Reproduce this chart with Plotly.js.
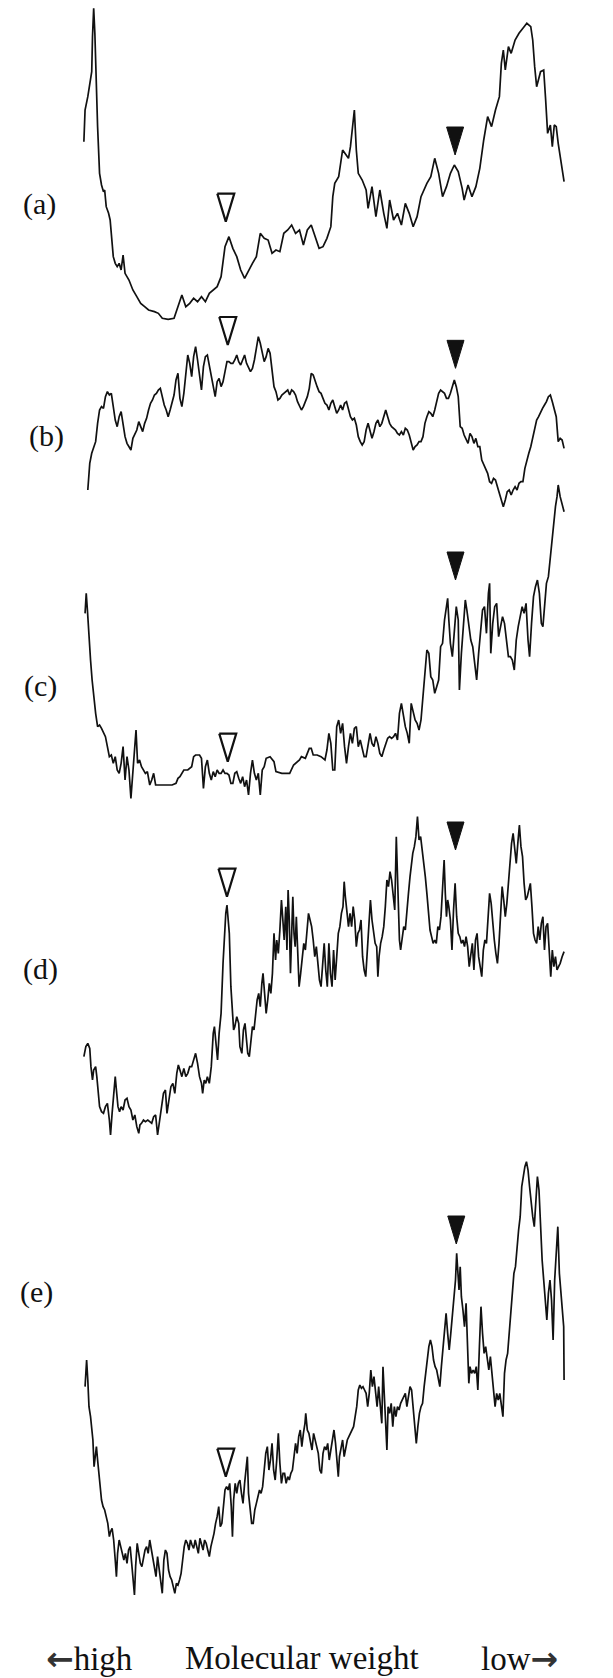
<!DOCTYPE html>
<html>
<head>
<meta charset="utf-8">
<script src="https://cdn.plot.ly/plotly-3.0.1.min.js"></script>
<style>
  html, body { margin: 0; padding: 0; background: #ffffff; }
  #chart { width: 613px; height: 1678px; }
</style>
</head>
<body>
<div id="chart"></div>
<script>
// Densitometric lane scans: position along the lane (relative migration units)
// and intensity (arbitrary units) for lanes (a)-(e).
const laneLabels = ['(a)', '(b)', '(c)', '(d)', '(e)'];

const posA = [1.5,1.8,2.5,3.0,3.5,3.7,4.0,4.3,4.6,5.0,5.5,6.0,6.5,6.8,7.2,7.8,8.2,8.5,9.0,9.5,10.0,10.5,11.0,11.5,12.0,13.0,14.0,15.0,16.0,17.0,18.0,19.5,20.5,21.5,23.0,24.5,25.5,26.5,27.5,28.5,29.5,30.5,31.5,32.5,33.5,34.5,35.5,36.5,37.5,38.5,39.5,40.5,41.5,42.5,43.5,44.5,45.5,46.5,47.5,48.5,49.5,50.5,51.5,52.5,53.5,54.5,55.5,56.5,57.5,58.5,59.5,60.5,61.5,62.5,63.5,64.5,65.0,65.5,66.5,67.5,68.5,69.0,69.5,70.0,70.5,71.0,71.5,72.5,73.5,74.0,75.0,76.0,77.0,78.0,78.8,79.5,80.5,81.5,82.5,83.5,84.5,85.5,86.5,87.5,89.0,90.0,91.0,92.0,93.0,94.0,95.0,96.0,97.0,98.0,98.5,99.5,100.5,101.5,102.5,103.5,104.5,105.5,106.5,107.5,108.0,108.5,109.0,109.8,110.5,111.5,112.5,113.5,114.5,115.5,116.0,116.5,117.0,118.0,118.8,119.3,119.8,120.5,121.0,121.5,122.0,122.5,123.0,124.0];
const intA = [53.5,63,67,71,74.5,85,93.5,86,72.5,58,44,40.5,38.5,39,34,32,30,26,19,17,16,17,15,19.5,14,12,9,7,5,4,3,2.5,2,0.5,0.2,0.5,4,7.5,4,5,6.5,5.5,7,5.5,8,9,10,13,22,25,21.5,19,15,12.5,15,17,19,26,24.5,24,20,21,20.5,26,27,28.5,26,27,22.5,27,28.5,25,21.5,22,24.5,28,37,41,43,51,49.5,48.5,52,58,63,51,44,42,39,33.5,40,31,39,32,27.5,36,30,32,28.5,35,32,28,31,37,41,43,48.5,44,37,40,44,46.5,44.5,39.5,36,40.5,37,40,45.5,54,61,58,63,67,77,81,75,82,80,84,86,87.5,89,88,84,76,70,74.5,75,66,56,58.5,52,58.5,58,53,49,41.5];

const posB = [2.5,3.0,3.5,4.0,4.5,5.0,5.5,6.0,6.5,7.0,7.5,8.0,8.5,9.0,9.5,10.0,10.5,11.0,11.5,12.0,12.5,13.0,13.5,14.0,14.5,15.0,15.5,16.0,16.5,17.0,17.5,18.0,18.5,19.0,19.5,20.0,20.5,21.0,21.5,22.0,22.5,23.0,23.5,24.0,24.5,25.0,25.5,26.0,26.5,27.0,27.5,28.0,28.5,29.0,29.5,30.0,30.5,31.0,31.5,32.0,32.5,33.0,33.5,34.0,34.5,35.0,35.5,36.0,36.5,37.0,37.5,38.0,38.5,39.0,39.5,40.0,40.5,41.0,41.5,42.0,42.5,43.0,44.0,44.5,45.0,45.5,46.0,46.5,47.0,47.5,48.0,48.5,49.0,49.5,50.0,50.5,51.0,51.5,52.0,52.5,53.5,54.0,54.5,55.0,55.5,56.0,56.5,57.0,57.5,58.0,58.5,59.0,59.5,60.0,60.5,61.0,61.5,62.0,62.5,63.0,63.5,64.0,64.5,65.0,65.5,66.0,66.5,67.0,67.5,68.0,68.5,69.0,69.5,70.0,70.5,71.0,71.5,72.0,72.5,73.0,73.5,74.0,74.5,75.0,75.5,76.0,76.5,77.0,77.5,78.0,78.5,79.0,79.5,80.0,80.5,81.0,81.5,82.0,82.5,83.0,83.5,84.0,84.5,85.0,85.5,86.0,86.5,87.0,87.5,88.0,88.5,89.0,89.5,90.0,90.5,91.0,91.5,92.0,92.5,93.0,93.5,94.0,94.5,95.0,95.5,96.0,96.5,97.0,97.5,98.0,98.5,99.0,99.5,100.0,100.5,101.0,101.5,102.0,102.5,103.0,103.5,104.0,104.5,105.0,105.5,106.0,106.5,107.0,107.5,108.0,108.5,109.0,109.5,110.0,110.5,111.0,111.5,112.0,112.5,113.0,113.5,114.0,114.5,115.0,115.5,116.0,116.5,117.0,117.5,118.0,118.5,119.0,119.5,120.0,120.5,121.0,121.5,122.0,122.5,123.0,123.5,124.0];
const intB = [6,14,17,19,20.5,26,30,31,30.5,34,35.5,34.5,35,31,27,25,28,29.5,26,22,20,19,18,21.5,23,24,26.5,25,23.5,26,27.5,30,32,33,34.5,35,36,36.5,33.5,31.5,30,28,30,32,34.5,39,41,33.5,31,35,42,46.5,44,40,46,49,45,40,36,43,46,46.5,43.5,40,37,34,38.5,39.5,37,38.5,41.5,44.5,44.5,44,44,45,46.5,44.5,43.5,45,46.5,44,41.5,42.5,45,48.5,52,50,47.5,44.5,46,48.5,47,42,37,35.5,33,33.5,34.5,35,36,34.5,36,35.5,34.5,32.5,31,30,31,32.5,34,36.5,41,40.5,38.5,37,35.5,35,33.5,32,31.5,30,32,33,31,29,30,31.5,30,32,32.5,30,28,27,27.5,25.5,22,20.5,19.5,20.5,24,26,24,21.5,23.5,26,27,25,26,28,30,28,26,25,24.5,24,23,22.5,23.5,22.5,24.5,24,22.5,20,18,19,19.5,20.5,20.5,22,26,28,29.5,29,28,30,32.5,35,36,35.5,35,33.5,33.5,35,37,39,37,34,25,24.5,22.5,21,20,23,22,20,21.5,19,19,15,13.5,12,11,8.5,8,9.5,9,7,5,3,1,3,5.5,6,4.5,6,7,6,8,8.5,8.5,12.5,15,17,19,22,25,27,28,29.5,30.5,31.5,32.5,34,34.5,32.5,30.5,28,20.5,21.5,21,18.5];

const posC = [1.8,2.1,2.4,2.8,3.2,3.6,4.0,4.5,5.0,5.5,6.0,6.5,7.0,7.5,8.0,8.5,9.0,9.5,10.0,10.5,11.0,11.5,12.0,12.5,13.0,13.5,14.0,14.5,14.8,15.2,15.7,16.2,16.7,17.2,17.7,18.3,18.8,19.3,19.8,21.0,22.0,24.0,25.0,25.5,26.0,27.0,28.0,29.0,29.5,30.0,31.0,31.5,32.0,32.5,33.0,33.5,34.0,34.5,35.0,35.5,36.0,36.5,37.0,37.5,38.0,38.5,39.0,39.5,40.0,40.5,41.0,41.5,42.0,42.5,43.0,43.5,44.0,44.5,45.0,45.5,46.0,46.5,47.0,47.5,48.0,49.0,50.0,50.5,52.0,54.0,55.0,55.5,56.0,56.5,57.0,58.0,58.5,59.0,59.5,60.0,61.0,62.0,63.0,63.5,64.0,64.5,65.0,65.5,66.0,66.5,67.0,67.5,68.0,68.5,69.0,69.5,70.0,70.5,71.0,71.5,72.0,72.5,73.0,73.5,74.0,74.5,75.0,75.5,76.0,76.5,77.0,77.5,78.0,78.5,79.0,79.5,80.0,80.5,81.0,81.5,82.0,82.5,83.0,83.5,84.0,84.5,85.0,85.5,86.0,86.5,87.0,87.5,88.0,88.5,89.0,89.5,90.0,90.5,91.0,91.5,92.0,92.5,93.0,93.5,94.0,94.3,94.6,95.0,95.5,96.0,96.5,97.0,97.3,97.8,98.3,98.8,99.2,99.7,100.2,100.7,101.2,101.7,102.2,102.7,103.2,103.7,104.2,104.7,105.0,105.3,105.8,106.3,106.8,107.3,107.8,108.3,108.8,109.3,109.8,110.3,110.8,111.3,111.8,112.3,112.8,113.3,113.8,114.3,114.8,115.2,115.7,116.2,116.7,117.2,117.7,118.2,118.6,119.0,119.5,120.0,120.5,121.0,121.5,121.8,122.2,122.5,123.0,123.5,124.0];
const intC = [60,66,61,52,46,40,35,30,26,26.5,25.5,24,23,20,17,17.5,15,17,13,12,15,20,10,17,13,4.5,12,20,25,15,16,14,13,12,12.5,8.5,10,12,8.5,8.5,8.5,8.5,9,10.5,11,13,13,14,17,17.5,17.5,16.5,7.5,14,16,12,10,12.5,11,13,12,12,13,12,12,11.5,9,9,12,12.5,10.5,9,11,8,10,5.5,12,16,12,10,12,5.5,13,14,16.5,17,15.5,12.5,12,12,14.5,15,15.5,16,17,16.5,18,19.5,19.5,17.5,17.5,17,16,19,24,21,13,13,26,28,24,27,20,15,20,24,21,25.5,26,20,22,19,17,17,21,24,21,20,23,21,18,17,19,21,22.5,23,22.5,23,24,22,30,33,29,26,24,21,33,30,28,27,25,28,36,41,49,48,41,40,36,38,40,50,51,58,62,64.5,58,51,47,56,62,58,37,48,57,64,61,57,52,50,44,40,48,54,61,62,54,66,69,48,57,62,63,53,56,59,57,51,47,47,46,43,52,56,59,62,60,63,52,47,57,65,68,70,66,57,56,62,69,71,77,84,88,92,95,98.5,95,93,90.5];

const posD = [1.5,2.0,2.5,3.0,3.3,3.7,4.0,4.5,4.8,5.2,5.5,6.0,6.5,7.0,7.5,8.0,8.3,8.7,9.1,9.5,9.8,10.2,10.6,11.0,11.5,12.0,12.5,13.0,13.5,14.0,14.5,15.0,15.5,15.8,16.2,16.7,17.2,17.8,18.3,18.8,19.3,19.8,20.3,20.8,21.3,21.8,22.3,22.7,23.2,23.7,24.2,24.7,25.2,25.6,26.0,26.5,27.0,27.5,28.0,28.5,29.0,29.5,30.0,30.5,31.0,31.5,31.8,32.2,32.6,33.0,33.5,34.0,34.5,34.8,35.2,35.6,36.0,36.5,37.0,37.4,37.7,38.0,38.3,38.6,39.0,39.4,39.7,40.0,40.5,41.0,41.3,41.8,42.2,42.6,42.9,43.3,43.7,44.1,44.5,44.9,45.3,45.7,46.1,46.5,46.9,47.2,47.6,48.0,48.4,48.8,49.2,49.6,50.0,50.4,50.7,51.1,51.5,51.9,52.2,52.6,53.0,53.3,53.6,53.9,54.2,54.5,54.8,55.1,55.4,55.7,56.0,56.4,56.8,57.2,57.6,58.0,58.4,58.8,59.2,59.6,60.0,60.4,60.8,61.2,61.6,62.0,62.4,62.8,63.2,63.6,64.0,64.4,64.8,65.2,65.6,66.0,66.4,66.8,67.2,67.6,67.9,68.2,68.6,69.0,69.4,69.8,70.2,70.6,71.0,71.4,71.8,72.2,72.6,73.0,73.4,73.8,74.2,74.6,75.0,75.4,75.8,76.2,76.5,76.8,77.2,77.6,78.0,78.4,78.8,79.2,79.6,80.0,80.4,80.8,81.2,81.6,82.0,82.3,82.7,83.1,83.5,83.9,84.3,84.7,85.0,85.4,85.8,86.2,86.6,87.0,87.4,87.8,88.2,88.6,89.0,89.4,89.8,90.2,90.6,91.0,91.4,91.8,92.2,92.6,93.0,93.4,93.7,94.0,94.3,94.6,95.0,95.4,95.8,96.2,96.6,97.0,97.4,97.8,98.2,98.6,99.0,99.4,99.8,100.2,100.6,101.0,101.4,101.8,102.2,102.6,103.0,103.4,103.8,104.2,104.6,105.0,105.4,105.8,106.2,106.6,107.0,107.4,107.8,108.2,108.6,109.0,109.4,109.8,110.2,110.6,111.0,111.4,111.8,112.2,112.6,113.0,113.4,113.8,114.2,114.6,115.0,115.4,115.8,116.2,116.6,117.0,117.4,117.8,118.2,118.6,119.0,119.4,119.8,120.2,120.6,121.0,121.4,121.8,122.2,122.6,123.0,123.5,124.0];
const intD = [25,28,29,27.5,22,18,21,22,19,14,10,8.5,8,10,11,6,1.5,8,13,19,15,10,8.5,10,9,12,12.5,10,9,6,7.5,4,2,4.5,5,6,5.5,6,5.5,5,7,7.5,1.5,6,9,14,15,8,12,16,17,14,20,22.5,21,19,21.5,19,20,22,22,24,26,23,19,17,14,18,17,19,17,22,32,34,29,24,32,38,53,62,68,70.5,66,62,46,36,33,34,37,35,28,26,33,35,30,26,25,30,34,33,37,42,44,40,47,50,44,38,42,47,44,50,62,54,60,56,63,72,67,60,70,57,75,66,50,64,73,62,58,67,56,46,50,55,59,57,62,68,66,64,60,55,58,52,48,46,54,59,51,46,59,50,46,57,48,54,62,64,68,70,77.5,73,68,64,68,64,70,66,58,62,63,66,55,51,49,56,66,72,66,63,59,58,49,55,59,61,64,70,78,76,80.5,78,73,69,91,73,60,57,60,64,63,70,74,79,82,86,88,91,97,90,91,87,84,79,74,69,63,61,59,60,59,64,63,67,77,84,74,67,72,70,66,57,69,77,67,62,61,59,60,58,61,58,52,55,59,51,60,62,55,52,49,57,60,59,67,74,71,64,60,56,53,59,70,76,72,67,71,78,82,89,92,88,83,89,94.5,88,85,77,72,73,75,77,70,62,60,59,64,60,65,67,57,64,65,56,49,57,52,55,51,52,53,55,56.5];

const posE = [1.8,2.0,2.2,2.5,2.8,3.2,3.5,3.8,4.1,4.4,4.7,5.0,5.3,5.6,6.0,6.4,6.8,7.2,7.6,8.0,8.3,8.7,9.1,9.5,9.8,10.1,10.5,10.9,11.3,11.7,12.1,12.5,12.9,13.3,13.7,14.1,14.4,14.7,15.1,15.5,15.9,16.3,16.7,17.1,17.5,17.9,18.3,18.7,19.1,19.5,19.9,20.3,20.7,21.1,21.5,21.9,22.3,22.7,23.1,23.5,23.9,24.3,24.7,25.1,25.5,25.9,26.3,26.7,27.1,27.5,27.9,28.3,28.7,29.1,29.5,29.9,30.3,30.7,31.1,31.5,31.9,32.3,32.7,33.1,33.5,33.9,34.3,34.7,35.1,35.5,35.9,36.3,36.7,37.1,37.5,37.9,38.3,38.7,39.1,39.4,39.7,40.1,40.5,40.9,41.3,41.7,42.1,42.5,42.9,43.2,43.5,43.9,44.3,44.7,45.1,45.5,45.9,46.3,46.7,47.1,47.5,47.9,48.3,48.7,49.1,49.5,49.9,50.3,50.7,51.1,51.5,51.9,52.3,52.7,53.1,53.5,53.9,54.3,54.7,55.1,55.5,55.9,56.3,56.7,57.1,57.5,57.9,58.1,58.5,58.9,59.3,59.7,60.1,60.5,60.9,61.3,61.7,62.1,62.5,62.9,63.3,63.7,64.1,64.5,64.9,65.3,65.7,66.1,66.4,66.7,67.1,67.5,67.9,68.3,68.7,69.1,69.5,69.9,70.3,70.7,71.1,71.5,71.9,72.3,72.7,73.1,73.5,73.9,74.3,74.7,75.1,75.5,75.9,76.3,76.7,77.1,77.5,77.8,78.1,78.5,78.8,79.1,79.5,79.9,80.3,80.7,81.1,81.5,81.9,82.3,82.7,83.1,83.5,83.9,84.3,84.7,85.1,85.5,85.9,86.3,86.7,87.1,87.5,87.9,88.3,88.7,89.1,89.5,89.9,90.3,90.7,91.1,91.5,91.9,92.3,92.7,93.1,93.5,93.9,94.3,94.7,95.1,95.5,95.9,96.3,96.6,96.9,97.2,97.5,97.8,98.2,98.6,99.0,99.4,99.7,100.0,100.4,100.8,101.2,101.6,102.0,102.4,102.8,103.2,103.6,104.0,104.4,104.8,105.2,105.6,106.0,106.4,106.8,107.2,107.6,108.0,108.4,108.8,109.2,109.6,110.0,110.4,110.8,111.2,111.6,112.0,112.4,112.8,113.2,113.6,114.0,114.4,114.8,115.2,115.6,116.0,116.4,116.8,117.2,117.6,118.0,118.4,118.8,119.2,119.6,120.0,120.4,120.8,121.2,121.6,122.0,122.4,122.8,123.2,123.6,123.9,124.0];
const intE = [64,68,72,66,58,55,51,48,40,43,46,42,38,34,30,28,27,25,23,19,20.5,21.5,18,12,7,14,18,16,14,12,14,11,15,16,11,5,1.5,10,17,14,11,10,12,15,16,14,18,15,12,9,7,13,9,6,2,12,15,14,9,7,6,4,2,5,4.5,6,8,12,16,18,17,15,18,16.5,15.5,18,16,14,18.5,17,15,18,17,15,13,16,18,20,23,25,28,22,23,29,33,34,33,35,28,19,30,35,32,35,36,32,29,35,41,43,32,27,23,23,27,29,31,33,32,34,39,44,46,39,42,47,39,36,42,50,41,35,38,38,35,37,36,38,39,43,47,44,49,51,46,50,53,56,51,50,47,45,50,48,46,44,39,38,44,46,45,47,42,45,47,51,47,41,37,43,46,48,43,46,48,49,50,51,52,55,58,63,64.5,63.5,64,63,62,58,62,69,64,67,62,58,64,58,53,70,62,53,45,58,56,59,52,58,55,58,57,59,60,61,62,58,61,64,63,58,51,47,52,56,58,59,64,68,72,76,78,76,72,70,69,66,64,70,76,82,86,80,75,80,86,90,96,104,98,93,100,91,87,82,89,76,65,70,68,69,68,70,63,76,88,80,74,76,72,69,73,68,62,58,62,60,62,58,55,68,72,74,80,86,90,98,100,106,111,115,124,127,130,131.5,129,124,119,115,112,120,127,123,111,102,96,91,84,92,96,90,78,96,105,112,98,92,86,82,66];

const lanePos = [posA, posB, posC, posD, posE];
const laneInt = [intA, intB, intC, intD, intE];

// Band markers: open triangle = first band, filled triangle = second band
const openBandPos   = [37.7, 38.2, 38.2, 38.0, 37.7];
const openBandTip   = [29.5, 49.5, 15.5, 73.0, 37.0];
const filledBandPos = [96.2, 96.3, 96.3, 96.3, 96.5];
const filledBandTip = [49.5, 42.5, 70.0, 87.0, 106.8];

const axisTitleLeft = 'high', axisTitleMid = 'Molecular weight', axisTitleRight = 'low';

// ---- layout / style (not data) ----
const W = 613, H = 1678, ML = 78, MR = 45;
const xRange = [0, 125];
const panels = [
  { range: [-1.5, 96],  domain: [1353/1678, 1] },
  { range: [-1.5, 60],  domain: [1163/1678, 1368/1678] },
  { range: [-0.5, 100], domain: [863/1678, 1198/1678] },
  { range: [-1.5, 102], domain: [533/1678, 878/1678] },
  { range: [-1.5, 138], domain: [73/1678, 538/1678] }
];
const labelPx = [[39, 204], [46, 436], [40, 686], [40, 969], [36, 1292]];
const pxPerX = (W - ML - MR) / (xRange[1] - xRange[0]);
const pxPerY = 10 / 3;
const triHalfW = 8.5 / pxPerX;
const triH = 28 / pxPerY;

const traces = [];
const layout = {
  width: W, height: H,
  margin: { l: ML, r: MR, t: 0, b: 0 },
  paper_bgcolor: '#ffffff',
  plot_bgcolor: 'rgba(0,0,0,0)',
  showlegend: false,
  xaxis: { range: xRange, visible: false, fixedrange: true },
  annotations: []
};

const hidden = { visible: false, showgrid: false, zeroline: false, fixedrange: true };
const serif = 'Liberation Serif, Times New Roman, serif';
const ink = '#111111';

laneLabels.forEach((lab, i) => {
  const yName = i === 0 ? 'y' : 'y' + (i + 1);
  const yKey = i === 0 ? 'yaxis' : 'yaxis' + (i + 1);
  layout[yKey] = Object.assign({}, hidden, { range: panels[i].range, domain: panels[i].domain, anchor: 'x' });

  traces.push({
    type: 'scatter', mode: 'lines',
    x: lanePos[i], y: laneInt[i],
    xaxis: 'x', yaxis: yName,
    line: { color: ink, width: 1.7 },
    hoverinfo: 'skip'
  });

  const ox = openBandPos[i], oy = openBandTip[i];
  traces.push({
    type: 'scatter', mode: 'lines',
    x: [ox - triHalfW, ox + triHalfW, ox, ox - triHalfW],
    y: [oy + triH, oy + triH, oy, oy + triH],
    xaxis: 'x', yaxis: yName,
    fill: 'toself', fillcolor: '#ffffff',
    line: { color: ink, width: 2.2 },
    hoverinfo: 'skip'
  });
  const fx = filledBandPos[i], fy = filledBandTip[i];
  traces.push({
    type: 'scatter', mode: 'lines',
    x: [fx - triHalfW, fx + triHalfW, fx, fx - triHalfW],
    y: [fy + triH, fy + triH, fy, fy + triH],
    xaxis: 'x', yaxis: yName,
    fill: 'toself', fillcolor: ink,
    line: { color: ink, width: 1 },
    hoverinfo: 'skip'
  });

  layout.annotations.push({
    xref: 'paper', yref: 'paper',
    x: (labelPx[i][0] - ML) / (W - ML - MR),
    y: (H - labelPx[i][1]) / H,
    xanchor: 'center', yanchor: 'middle',
    text: lab, showarrow: false,
    font: { family: serif, size: 30, color: ink }
  });
});

const arrowStyle = 'font-family:DejaVu Sans;font-weight:bold;fill:#333333';
const bottomTexts = [
  '<span style="' + arrowStyle + '">\u2190</span>' + axisTitleLeft,
  axisTitleMid,
  axisTitleRight + '<span style="' + arrowStyle + '">\u2192</span>'
];
const bottomPx = [89, 302, 519];
bottomTexts.forEach((t, k) => {
  layout.annotations.push({
    xref: 'paper', yref: 'paper',
    x: (bottomPx[k] - ML) / (W - ML - MR),
    y: (H - 1658) / H,
    xanchor: 'center', yanchor: 'middle',
    text: t, showarrow: false,
    font: { family: serif, size: 33, color: ink }
  });
});

Plotly.newPlot('chart', traces, layout, { staticPlot: true, displayModeBar: false });
</script>
</body>
</html>
